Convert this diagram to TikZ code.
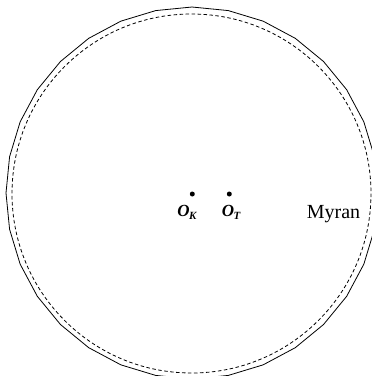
\documentclass[tikz,border=0pt]{standalone}
\usepackage{fontspec}
\setmainfont{Liberation Serif}
\usetikzlibrary{positioning}

\newcommand{\centrelabel}[1]{{\bfseries\itshape O\kern-0.5pt\raisebox{-2.5pt}{\fontsize{11}{13}\selectfont\bfseries\itshape #1}}}

\tikzset{
  centre/.style={circle, fill=black, inner sep=0pt, minimum size=5pt},
  centrename/.style={anchor=base, inner sep=0pt, font=\fontsize{17}{20}\selectfont},
}

\begin{document}
\begin{tikzpicture}[x=1pt, y=-1pt, line width=0.8pt]
    \useasboundingbox (0,0) rectangle (372,376);
    \clip (0,0) rectangle (372,376);
    % Outer outline (polygon)
    \draw plot[samples=33, domain=0:360] ({192+186*cos(\x+90)}, {193+186*sin(\x+90)}) -- cycle;
    % Inner circle (dashed)
    \draw[dashed, dash pattern=on 3.5pt off 2.5pt] (191.5,193.5) circle[radius=179.5];
    % Centres
    \node[centre] (OK) at (192.3,194) {};
    \node[centre] (OT) at (229.3,194) {};
    \node[centrename] (labK) at (187,216.5) {\centrelabel{K}};
    \node[centrename] (labT) at (231,216.5) {\centrelabel{T}};
    % Name
    \node[anchor=base, inner sep=0pt, font=\fontsize{20}{24}\selectfont] (myran) at (333.5,218) {Myran};
\end{tikzpicture}
\end{document}
